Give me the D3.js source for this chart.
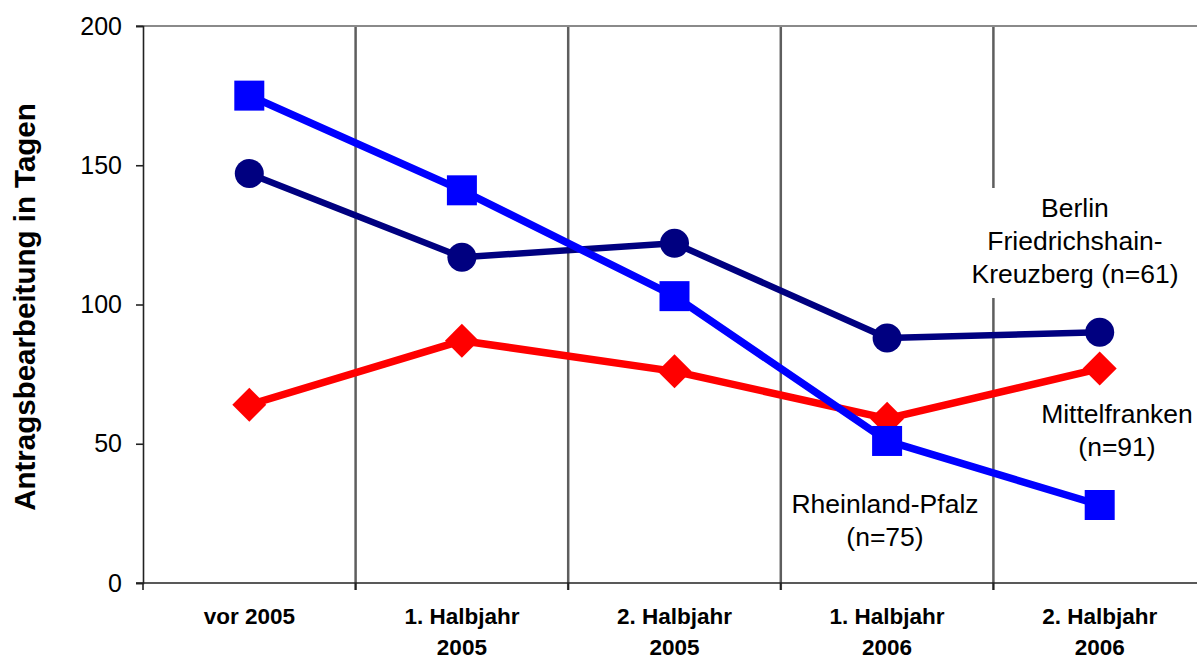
<!DOCTYPE html>
<html>
<head>
<meta charset="utf-8">
<script src="https://cdn.jsdelivr.net/npm/d3@7"></script>
<style>
  body { margin: 0; background: #fff; }
  svg { font-family: "Liberation Sans", Arial, sans-serif; }
</style>
</head>
<body>
<svg width="1197" height="659"></svg>
<script>
// categories (two-line labels) and the three series
const categories = ["vor 2005", "1. Halbjahr 2005", "2. Halbjahr 2005", "1. Halbjahr 2006", "2. Halbjahr 2006"];
const catLines = [["vor 2005"], ["1. Halbjahr", "2005"], ["2. Halbjahr", "2005"], ["1. Halbjahr", "2006"], ["2. Halbjahr", "2006"]];
const berlin = [147, 117, 122, 88, 90];
const rheinland = [175, 141, 103, 51, 28];
const mittelfranken = [64, 87, 76, 59, 77];
const yTicks = [0, 50, 100, 150, 200];

let svg = d3.select("svg");
let x = d3.scaleBand().domain(categories).range([143, 1206]).padding(0);
let y = d3.scaleLinear().domain([0, 200]).range([583, 26]);

// vertical separators between categories
let bounds = categories.map(c => x(c)).concat([x.range()[1]]);
svg.append("g").selectAll("line")
    .data(bounds.slice(1))
    .enter().append("line")
    .attr("x1", d => d).attr("x2", d => d)
    .attr("y1", y(200)).attr("y2", y(0) + 7)
    .attr("stroke", "#5e5e5e")
    .attr("stroke-width", 2.5);

// top border line
svg.append("line")
    .attr("x1", 136).attr("x2", 1206)
    .attr("y1", y(200)).attr("y2", y(200))
    .attr("stroke", "#8a8a8a").attr("stroke-width", 2);

// y axis
let yAxis = svg.append("g")
    .attr("transform", "translate(143,0)")
    .call(d3.axisLeft(y).tickValues(yTicks).tickSize(7).tickPadding(14));
yAxis.select(".domain").attr("stroke", "#222").attr("stroke-width", 1.6);
yAxis.selectAll(".tick line").attr("stroke", "#222").attr("stroke-width", 1.6);
yAxis.selectAll("text").attr("font-size", "25px").attr("fill", "#000")
    .attr("font-family", "Liberation Sans, Arial, sans-serif");

// x axis baseline + ticks
svg.append("line")
    .attr("x1", 136).attr("x2", 1206)
    .attr("y1", y(0)).attr("y2", y(0))
    .attr("stroke", "#222").attr("stroke-width", 1.6);
svg.append("g").selectAll("line")
    .data(bounds)
    .enter().append("line")
    .attr("x1", d => d).attr("x2", d => d)
    .attr("y1", y(0)).attr("y2", y(0) + 7)
    .attr("stroke", "#222").attr("stroke-width", 1.6);

// category labels
let catG = svg.append("g").selectAll("text")
    .data(categories)
    .enter().append("text")
    .attr("x", d => x(d) + x.bandwidth() / 2)
    .attr("y", 624)
    .attr("text-anchor", "middle")
    .attr("font-size", "22.5px")
    .attr("font-weight", "bold");
catG.each(function (d, i) {
    d3.select(this).selectAll("tspan")
        .data(catLines[i])
        .enter().append("tspan")
        .attr("x", x(d) + x.bandwidth() / 2)
        .attr("dy", (t, j) => j === 0 ? 0 : "31px")
        .text(t => t);
});

// y axis title
svg.append("text")
    .attr("transform", "translate(35,307) rotate(-90)")
    .attr("text-anchor", "middle")
    .attr("font-size", "29.5px")
    .attr("font-weight", "bold")
    .text("Antragsbearbeitung in Tagen");

// white box behind the Berlin label (breaks the separator)
svg.append("rect")
    .attr("x", 975).attr("y", 188).attr("width", 40).attr("height", 110)
    .attr("fill", "#fff");

let line = d3.line()
    .x((d, i) => x(categories[i]) + x.bandwidth() / 2)
    .y(d => y(d));

const series = [
    { values: mittelfranken, color: "#ff0000", width: 7.5, shape: "diamond" },
    { values: berlin, color: "#000080", width: 6.5, shape: "circle" },
    { values: rheinland, color: "#0000ff", width: 7.5, shape: "square" }
];

series.forEach(s => {
    svg.append("path")
        .datum(s.values)
        .attr("d", line)
        .attr("fill", "none")
        .attr("stroke", s.color)
        .attr("stroke-width", s.width)
        .attr("stroke-linejoin", "round");
    let sym;
    if (s.shape === "circle") sym = d3.symbol().type(d3.symbolCircle).size(Math.PI * 14.5 * 14.5);
    else sym = d3.symbol().type(d3.symbolSquare).size(s.shape === "square" ? 30 * 30 : 24 * 24);
    svg.append("g").selectAll("path")
        .data(s.values)
        .enter().append("path")
        .attr("d", sym)
        .attr("transform", (d, i) => "translate(" + (x(categories[i]) + x.bandwidth() / 2) + "," + y(d) + ")"
            + (s.shape === "diamond" ? " rotate(45)" : ""))
        .attr("fill", s.color);
});

// series annotations
const notes = [
    { lines: ["Berlin", "Friedrichshain-", "Kreuzberg (n=61)"], cx: 1075, y0: 217 },
    { lines: ["Mittelfranken", "(n=91)"], cx: 1117, y0: 423 },
    { lines: ["Rheinland-Pfalz", "(n=75)"], cx: 885, y0: 513 }
];
notes.forEach(n => {
    let t = svg.append("text")
        .attr("text-anchor", "middle")
        .attr("font-size", "26.5px")
        .attr("y", n.y0);
    t.selectAll("tspan")
        .data(n.lines)
        .enter().append("tspan")
        .attr("x", n.cx)
        .attr("dy", (d, j) => j === 0 ? 0 : "33px")
        .text(d => d);
});
</script>
</body>
</html>
